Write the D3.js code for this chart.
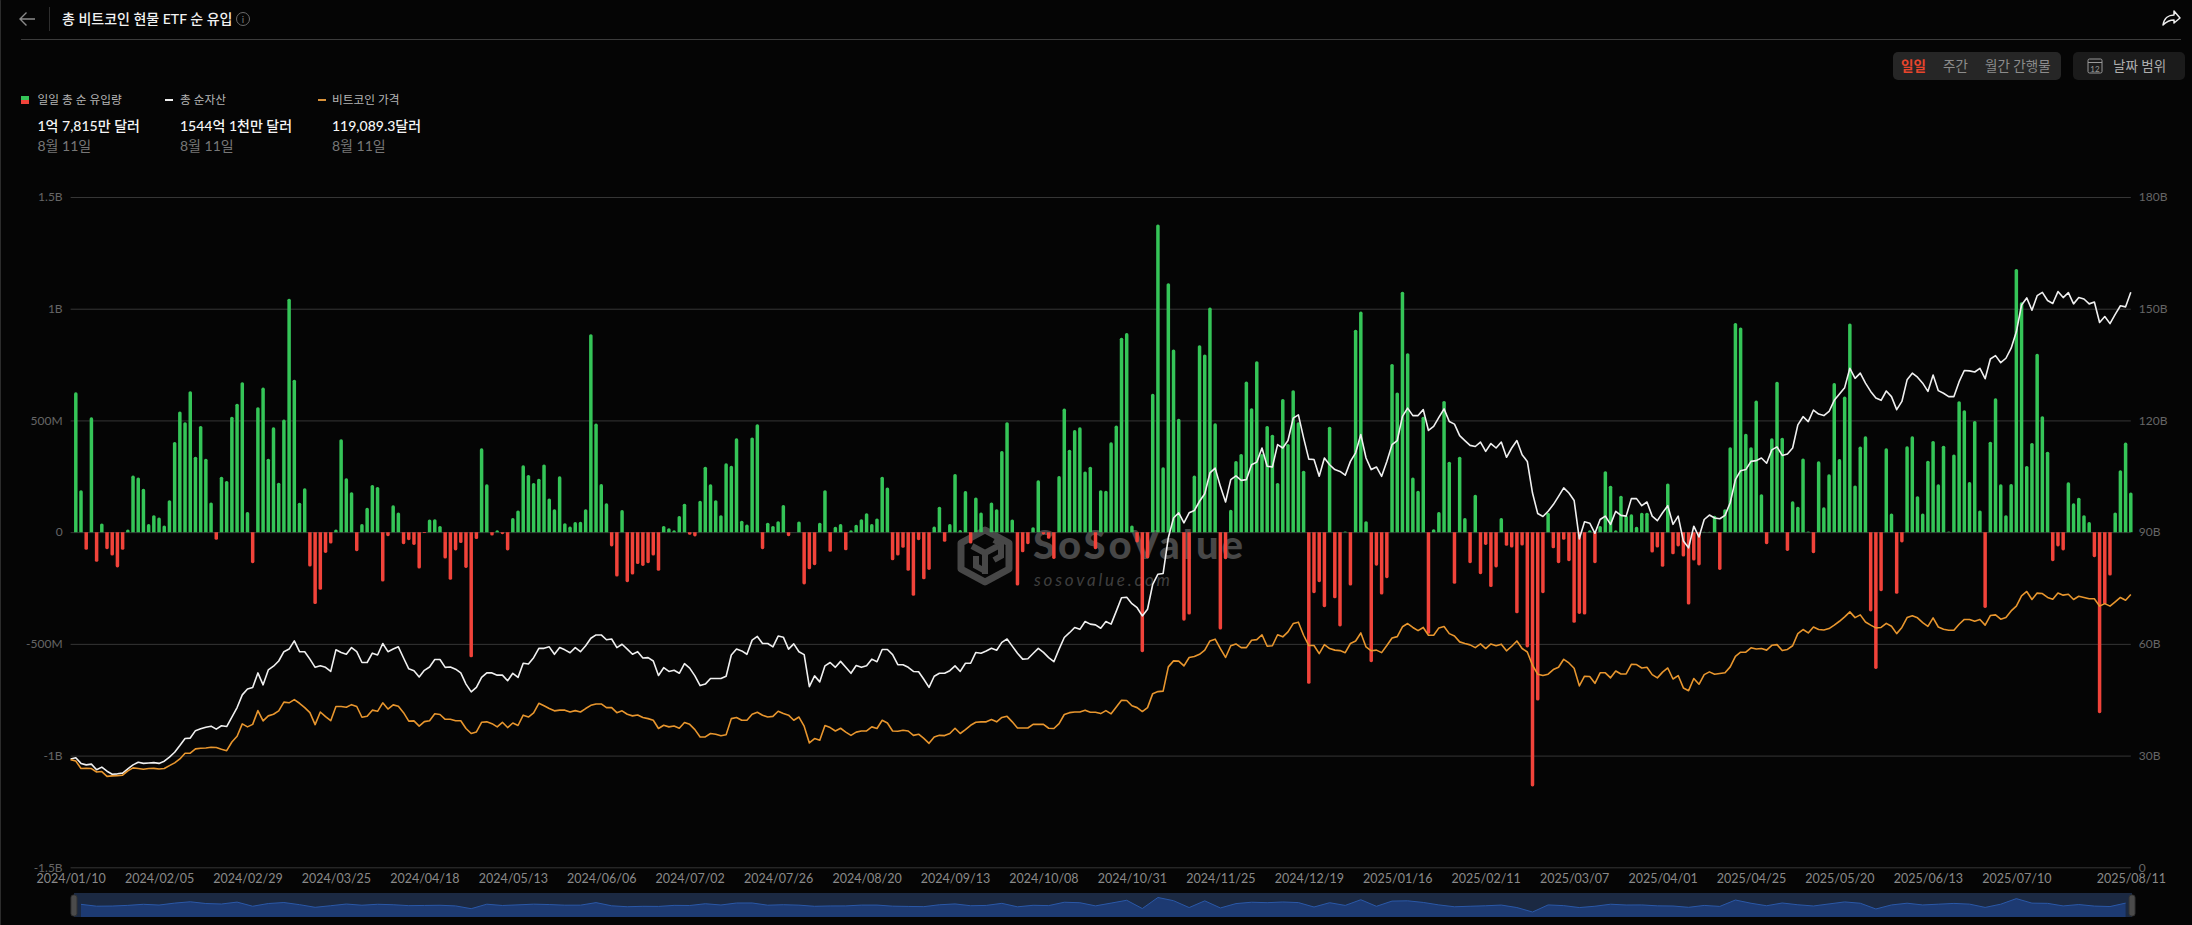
<!DOCTYPE html>
<html>
<head>
<meta charset="utf-8">
<script src="https://cdn.jsdelivr.net/npm/d3@7"></script>
<style>
  html, body { margin: 0; padding: 0; background: #050505; overflow: hidden; }
  svg { display: block; font-family: Lato, "Noto Sans CJK KR", sans-serif; }
</style>
</head>
<body>
<svg id="chart" width="2192" height="925"></svg>
<script>
// x axis labels, every 17th trading day plus the last one
const xTickIndex = [0,17,34,51,68,85,102,119,136,153,170,187,204,221,238,255,272,289,306,323,340,357,374,396];
const xTickLabels = ['2024/01/10','2024/02/05','2024/02/29','2024/03/25','2024/04/18','2024/05/13','2024/06/06','2024/07/02','2024/07/26','2024/08/20','2024/09/13','2024/10/08','2024/10/31','2024/11/25','2024/12/19','2025/01/16','2025/02/11','2025/03/07','2025/04/01','2025/04/25','2025/05/20','2025/06/13','2025/07/10','2025/08/11'];

const flowTicks = [-1500,-1000,-500,0,500,1000,1500];
const flowTickLabels = ['-1.5B','-1B','-500M','0','500M','1B','1.5B'];
const assetTicks = [0,30,60,90,120,150,180];
const assetTickLabels = ['0','30B','60B','90B','120B','150B','180B'];

// daily net inflow, $M (no bar on the first day)
const dailyFlow = [null,
  626,188,-79,514,-133,39,-76,-105,-158,-79,
  12,253,245,194,36,76,66,30,143,404,
  540,492,631,338,475,329,133,-34,248,229,
  517,575,671,90,-139,559,647,329,469,221,
  504,1045,682,132,196,-154,-322,-258,-93,-51,
  12,416,241,179,-85,36,109,211,202,-221,
  -18,120,88,-54,-36,-57,-163,-4,57,58,
  28,-118,-213,-82,-49,-160,-560,-31,375,214,
  -15,9,-9,-82,63,97,299,256,220,239,
  303,151,103,250,40,25,45,46,103,886,
  486,215,129,-64,-199,99,-224,-190,-143,-151,
  -139,-105,-173,28,18,9,72,127,-12,-19,
  140,293,214,143,76,308,297,420,51,34,
  424,483,-76,42,28,49,121,-18,0,48,
  -234,-166,-148,42,188,-88,24,36,-81,9,
  33,58,85,36,61,248,200,-126,-105,-70,
  -173,-285,-36,-211,-169,25,114,-43,36,260,
  10,184,-51,155,88,0,133,103,363,492,
  57,-239,-90,-54,22,232,-10,-30,-120,251,
  553,369,457,469,272,293,-76,188,185,402,
  477,870,891,30,-46,-537,-117,619,1377,290,
  1114,818,507,-396,-369,253,837,795,1005,487,
  -436,-121,100,318,350,674,555,765,350,475,
  436,220,596,395,635,492,275,-679,-273,-224,
  -336,472,-296,-422,3,-239,906,987,49,-582,
  -150,-279,-206,753,625,1076,801,245,185,517,
  -455,13,90,587,315,-231,338,63,-139,167,
  -188,-57,-246,-158,63,-61,-69,-363,-60,-516,
  -1138,-754,-273,87,-72,-139,-34,-130,-406,-366,
  -369,9,-139,28,273,208,9,163,73,80,
  24,87,87,-91,-69,-155,218,-99,-64,-109,
  -324,-127,-149,2,2,73,-169,103,380,936,
  916,440,380,589,170,-54,420,673,423,-84,
  138,114,330,3,-94,317,111,259,667,327,
  607,934,209,383,429,-355,-612,-264,375,84,
  -276,-46,384,429,161,84,320,408,214,387,
  3,348,586,546,224,498,97,-339,405,599,
  214,76,215,1178,1029,296,399,798,519,360,
  -130,-64,-82,223,129,154,76,45,-112,-810,
  -323,-194,88,277,401,178];

// total net assets, $B
const netAssets = [
  29.1,29.4,27.9,27.5,27.7,26.2,26.9,25.8,25.0,25.1,
  25.3,26.4,27.5,28.2,27.9,28.0,28.1,27.9,28.5,29.6,
  30.9,32.7,34.6,34.7,36.7,37.2,37.6,37.9,37.1,38.0,
  37.8,40.3,42.9,46.3,47.9,48.3,52.2,49.0,53.0,54.0,
  55.4,57.9,58.6,60.8,57.9,57.9,55.9,53.7,54.1,53.7,
  52.6,58.4,57.7,57.2,59.0,57.9,55.0,55.0,57.5,57.0,
  60.1,57.9,58.6,59.2,56.2,53.3,52.8,51.1,52.9,53.8,
  55.8,55.8,53.7,53.8,53.2,52.2,49.2,47.1,48.3,51.0,
  52.2,52.2,51.6,51.6,50.1,52.1,51.0,54.8,54.6,56.3,
  58.8,58.8,59.2,57.2,59.0,58.4,57.6,59.0,57.9,59.5,
  61.5,62.4,62.4,61.1,61.3,59.0,59.9,58.6,57.2,57.9,
  56.2,56.3,55.4,51.5,53.6,52.6,52.9,52.1,54.7,53.5,
  51.4,48.8,49.2,50.7,50.7,50.7,51.3,57.0,58.6,58.1,
  57.2,61.0,62.0,60.1,60.1,59.2,62.1,61.8,58.6,60.0,
  57.9,57.1,48.5,51.4,49.8,54.1,55.0,53.7,55.3,53.7,
  52.1,54.2,53.7,54.1,55.9,55.2,58.5,58.5,57.1,54.4,
  54.4,53.7,52.6,52.5,50.5,48.3,51.3,52.1,52.1,52.8,
  54.1,52.6,54.8,54.8,57.7,57.5,58.1,58.8,58.3,60.4,
  61.3,59.4,57.5,55.9,56.0,57.4,58.8,57.7,56.3,55.2,
  58.6,61.7,63.0,64.4,63.9,66.0,65.3,65.1,64.2,66.0,
  65.3,68.8,72.4,72.5,70.8,69.7,67.5,69.3,76.0,78.7,
  78.9,88.5,93.8,95.2,92.5,95.2,95.8,98.3,100.3,105.9,
  107.2,102.3,98.1,104.1,105.1,103.9,104.1,108.1,108.8,112.6,
  107.7,107.5,113.5,112.6,114.6,120.6,121.5,115.3,109.6,109.5,
  105.0,109.9,108.1,106.8,106.3,105.3,109.0,111.3,116.2,109.9,
  106.8,107.5,105.0,109.0,113.5,114.6,121.1,123.3,121.3,121.3,
  122.9,117.3,118.4,120.8,123.1,119.7,119.0,115.9,114.6,113.3,
  113.0,114.2,111.7,113.8,112.6,114.2,110.1,112.6,114.6,110.8,
  109.0,100.5,95.0,94.2,95.6,97.4,99.6,101.9,100.5,98.5,
  88.2,92.8,92.4,89.7,93.4,94.3,92.1,95.6,94.5,94.3,
  99.0,99.0,97.1,98.1,94.3,93.1,95.2,97.1,92.1,94.3,
  87.6,85.8,91.6,88.7,93.4,94.6,93.8,93.6,94.5,97.9,
  104.1,106.5,106.8,109.0,109.2,109.9,108.5,112.1,112.9,110.6,
  111.0,112.6,118.8,121.0,119.7,122.8,121.7,121.3,122.4,125.4,
  127.1,128.8,134.0,131.3,132.7,130.0,127.8,126.0,125.4,127.9,
  126.4,122.9,125.1,130.9,132.7,131.6,130.0,127.8,132.2,128.0,
  127.3,126.4,126.4,130.4,133.4,133.3,133.0,134.0,131.2,136.5,
  137.4,135.5,136.7,139.4,143.8,151.0,152.9,149.6,153.5,154.4,
  152.2,151.4,154.6,153.0,154.3,151.3,153.0,152.6,151.3,151.8,
  146.3,147.9,146.0,148.5,150.8,150.5,154.4];

// bitcoin price, $K
const btcPrice = [
  47.0,46.4,43.1,43.2,43.1,41.6,41.8,39.7,39.9,40.0,
  40.2,42.1,43.4,43.1,42.8,43.1,43.2,42.9,43.1,44.4,
  45.6,47.3,49.8,49.8,51.7,52.0,52.1,52.4,52.3,51.5,
  50.9,54.7,57.2,62.6,61.3,62.4,68.4,63.9,66.1,66.8,
  68.3,72.1,71.8,73.2,71.6,69.7,67.5,62.3,67.8,65.8,
  64.0,70.2,70.2,69.9,71.0,70.2,65.5,65.9,68.6,68.1,
  71.8,69.1,70.9,70.3,67.5,63.8,63.9,61.6,63.6,64.0,
  67.0,66.7,64.6,64.6,64.0,64.0,60.6,58.4,59.1,63.3,
  63.5,62.7,61.3,63.3,61.0,63.0,61.9,66.4,65.6,67.4,
  71.6,70.5,69.3,68.3,68.6,68.6,67.8,68.4,67.8,69.3,
  70.7,71.3,71.3,69.7,69.7,67.5,68.3,66.8,66.1,66.5,
  65.4,64.9,64.2,60.6,62.0,61.3,61.7,60.7,63.2,62.4,
  60.1,56.9,56.9,58.4,58.1,57.4,57.9,64.9,65.4,64.2,
  64.2,66.8,67.7,66.4,65.6,65.9,68.1,67.1,66.4,64.2,
  65.6,61.6,54.3,56.2,55.5,61.9,61.0,59.5,60.7,59.0,
  57.6,59.0,59.5,59.5,61.3,60.6,64.2,63.0,59.5,59.4,
  59.8,59.5,57.6,58.1,56.3,54.1,56.9,57.6,57.5,58.4,
  60.7,58.4,60.1,62.0,63.3,63.5,63.5,64.5,63.5,65.4,
  65.9,63.5,60.8,60.8,60.8,62.4,62.4,62.4,60.7,60.6,
  62.7,66.7,67.5,67.8,67.8,68.6,67.7,67.7,67.1,68.4,
  67.0,70.0,72.9,72.8,70.5,69.7,68.0,69.7,75.8,76.7,
  76.9,87.5,90.1,90.0,87.9,91.6,92.0,93.0,94.8,98.8,
  99.6,95.5,91.6,96.7,97.5,95.9,95.9,99.1,99.4,101.5,
  96.5,96.7,101.5,100.6,102.8,106.4,107.0,101.3,96.8,96.8,
  93.3,97.2,95.5,94.8,94.6,93.7,97.7,98.8,102.3,96.2,
  94.5,94.8,93.7,96.8,100.1,100.7,105.0,106.4,104.7,103.3,
  104.7,101.3,101.3,104.5,105.1,102.0,101.0,98.4,97.7,97.1,
  95.9,97.5,95.5,97.5,96.7,97.4,94.5,96.5,98.8,95.5,
  94.0,88.2,84.3,83.7,84.3,86.3,87.3,90.8,89.2,86.9,
  79.2,83.4,83.3,80.3,84.9,84.9,82.7,85.7,84.4,84.4,
  88.6,88.5,87.0,87.3,84.1,82.7,85.2,87.0,82.2,83.7,
  78.3,77.1,82.4,79.9,84.1,85.3,84.3,84.6,84.9,87.5,
  92.1,93.9,93.9,95.8,95.3,95.5,94.8,96.9,97.2,94.6,
  95.1,96.7,102.0,103.8,102.3,104.9,103.8,103.6,104.2,105.7,
  107.4,109.3,111.5,109.0,110.2,107.1,105.7,104.5,104.7,106.5,
  105.2,102.0,104.7,109.0,109.8,108.9,106.8,105.2,108.9,104.9,
  103.9,103.5,103.5,106.1,108.2,108.2,107.4,108.2,105.7,109.9,
  110.2,108.3,109.0,111.9,114.0,118.5,120.4,116.9,119.7,119.5,
  117.8,117.0,119.7,118.8,119.2,116.9,118.3,117.8,117.2,117.2,
  114.0,115.1,114.0,115.9,117.8,116.6,119.1];

const legendNames = ['일일 총 순 유입량','총 순자산','비트코인 가격'];
const legendValues = ['1억 7,815만 달러','1544억 1천만 달러','119,089.3달러'];
const legendDate = '8월 11일';
const legendX = [37.5, 180, 332];

const GREEN = '#35c558', RED = '#f1433a', WHITE = '#f0f0f0', ORANGE = '#e8962e';
const GRID = '#363636', AXIS_TEXT = '#666';

const svg = d3.select('#chart');
const xScale = d3.scalePoint().domain(d3.range(netAssets.length)).range([70.6, 2130.8]);
const flowScale = d3.scaleLinear().domain([-1500, 1500]).range([867.3, 197]);
const assetScale = d3.scaleLinear().domain([0, 180]).range([867.3, 197]);
const priceScale = d3.scaleLinear().domain([0, 292.6]).range([867.3, 197]);

svg.append('rect').attr('x', 0.5).attr('y', -5).attr('width', 2200).attr('height', 940)
  .attr('rx', 6).attr('fill', '#050505').attr('stroke', '#2c2c2c');

// left axis carries the grid lines
svg.append('g').attr('transform', 'translate(70.6,0)')
  .call(d3.axisLeft(flowScale).tickValues(flowTicks).tickSize(-2060.2).tickPadding(8)
    .tickFormat((d, i) => flowTickLabels[i]))
  .call(g => g.select('.domain').remove())
  .call(g => g.selectAll('line').attr('stroke', GRID))
  .call(g => g.selectAll('text').attr('fill', AXIS_TEXT).style('font-size', '12px').style('font-family', 'Lato'));

svg.append('g').attr('transform', 'translate(2130.8,0)')
  .call(d3.axisRight(assetScale).tickValues(assetTicks).tickSize(0).tickPadding(8)
    .tickFormat((d, i) => assetTickLabels[i]))
  .call(g => g.select('.domain').remove())
  .call(g => g.selectAll('text').attr('fill', AXIS_TEXT).style('font-size', '12px').style('font-family', 'Lato'));

svg.append('g').attr('transform', 'translate(0,867.3)')
  .call(d3.axisBottom(xScale).tickValues(xTickIndex).tickSize(0).tickPadding(7)
    .tickFormat((d, i) => xTickLabels[i]))
  .call(g => g.select('.domain').remove())
  .call(g => g.selectAll('text').attr('fill', '#8a8a8a').style('font-size', '12.5px').style('font-family', 'Lato'));

// watermark sits under the bars
const mark = svg.append('g').attr('fill', 'none').attr('stroke', '#474747');
mark.append('path').attr('stroke-width', 7).attr('stroke-linejoin', 'round')
  .attr('d', 'M985 530 L1009 543 L1009 569 L985 582 L961 569 L961 543 Z');
mark.append('path').attr('stroke-width', 6)
  .attr('d', 'M972 546 L985 553 L998 546 M985 553 L985 574 M976 556 L976 566 L985 571 M994 540 L1001 544 L1001 556 L994 560');
svg.append('text').attr('x', 1033).attr('y', 559).text('SoSoValue')
  .attr('fill', '#474747').style('font-size', '40px').style('font-weight', 900).style('font-family', 'Lato')
  .attr('textLength', 210);
svg.append('text').attr('x', 1034).attr('y', 586).text('sosovalue.com')
  .attr('fill', '#3f3f3f').style('font-size', '17px').style('font-style', 'italic').style('font-family', 'Lato')
  .attr('textLength', 136);

// bars: flat at the zero line, rounded at the far end
function barPath(v, i) {
  const w = 3.5;
  const x0 = xScale(i) - w / 2, x1 = x0 + w;
  const y0 = flowScale(0), y1 = flowScale(v);
  const s = v > 0 ? 1 : -1;
  const r = Math.min(1.6, Math.abs(y1 - y0));
  const p = d3.path();
  p.moveTo(x0, y0);
  p.lineTo(x0, y1 + s * r);
  p.quadraticCurveTo(x0, y1, x0 + 1.6, y1);
  p.lineTo(x1 - 1.6, y1);
  p.quadraticCurveTo(x1, y1, x1, y1 + s * r);
  p.lineTo(x1, y0);
  p.closePath();
  return p.toString();
}
svg.append('g').selectAll('path')
  .data(dailyFlow)
  .join('path')
  .attr('d', (d, i) => d ? barPath(d, i) : null)
  .attr('fill', d => d > 0 ? GREEN : RED);

const assetLine = d3.line().x((d, i) => xScale(i)).y(d => assetScale(d));
const priceLine = d3.line().x((d, i) => xScale(i)).y(d => priceScale(d));
svg.append('path').attr('d', assetLine(netAssets)).attr('fill', 'none')
  .attr('stroke', WHITE).attr('stroke-width', 1.6).attr('stroke-linejoin', 'round');
svg.append('path').attr('d', priceLine(btcPrice)).attr('fill', 'none')
  .attr('stroke', ORANGE).attr('stroke-width', 1.6).attr('stroke-linejoin', 'round');

// range slider under the chart, thinned to every third day
const sliderScale = d3.scaleLinear().domain([-2000, 2150]).range([917, 893]);
const sliderDays = d3.range(2, dailyFlow.length, 3);
svg.append('rect').attr('x', 74).attr('y', 893).attr('width', 2058).attr('height', 24).attr('fill', '#1b2942');
const sliderArea = d3.area().x(i => xScale(i)).y0(917).y1(i => sliderScale(dailyFlow[i]));
svg.append('path').attr('d', sliderArea(sliderDays)).attr('fill', '#1d3a72');
const sliderLine = d3.line().x(i => xScale(i)).y(i => sliderScale(dailyFlow[i]));
svg.append('path').attr('d', sliderLine(sliderDays)).attr('fill', 'none').attr('stroke', '#2a58a8').attr('stroke-width', 1);
[74, 2132].forEach(x => {
  svg.append('rect').attr('x', x - 3).attr('y', 895).attr('width', 6).attr('height', 21).attr('rx', 2.5)
    .attr('fill', '#4b4b4b').attr('stroke', '#333');
});

// header
svg.append('path').attr('d', 'M35 19 H20 M26.5 12.5 L20 19 L26.5 25.5').attr('fill', 'none')
  .attr('stroke', '#8a8a8a').attr('stroke-width', 1.4);
svg.append('line').attr('x1', 49.5).attr('x2', 49.5).attr('y1', 7).attr('y2', 31).attr('stroke', '#2e2e2e');
svg.append('text').attr('x', 62).attr('y', 24).text('총 비트코인 현물 ETF 순 유입')
  .attr('fill', '#f2f2f2').style('font-size', '14px').style('font-weight', 500);
svg.append('circle').attr('cx', 243).attr('cy', 19).attr('r', 6.5).attr('fill', 'none').attr('stroke', '#6a6a6a');
svg.append('text').attr('x', 243).attr('y', 23).attr('text-anchor', 'middle').text('i')
  .attr('fill', '#7a7a7a').style('font-size', '10px');
svg.append('line').attr('x1', 21).attr('x2', 2181).attr('y1', 39.5).attr('y2', 39.5).attr('stroke', '#3c3c3c');
svg.append('path').attr('d', 'M2163 25 C2164 18 2169 15 2174 15 L2174 11 L2180 18 L2174 23 L2174 20 C2170 20 2167 21 2163 25 Z')
  .attr('fill', 'none').attr('stroke', '#eee').attr('stroke-width', 1.5).attr('stroke-linejoin', 'round');

// period buttons
svg.append('rect').attr('x', 1893).attr('y', 52).attr('width', 168).attr('height', 28).attr('rx', 5).attr('fill', '#262626');
svg.append('rect').attr('x', 2073).attr('y', 52).attr('width', 112).attr('height', 28).attr('rx', 5).attr('fill', '#1b1b1b');
const buttons = [['일일', 1901, '#e8452c', 700], ['주간', 1943, '#8c8c8c', 400], ['월간 간행물', 1985, '#8c8c8c', 400], ['날짜 범위', 2113, '#adadad', 400]];
buttons.forEach(b => {
  svg.append('text').attr('x', b[1]).attr('y', 71).text(b[0])
    .attr('fill', b[2]).style('font-size', '13.5px').style('font-weight', b[3]);
});
svg.append('rect').attr('x', 2088).attr('y', 59).attr('width', 14).attr('height', 14).attr('rx', 1.5)
  .attr('fill', 'none').attr('stroke', '#999');
svg.append('line').attr('x1', 2088).attr('x2', 2102).attr('y1', 62.5).attr('y2', 62.5).attr('stroke', '#999');
svg.append('text').attr('x', 2095).attr('y', 71.5).attr('text-anchor', 'middle').text('12')
  .attr('fill', '#999').style('font-size', '8px');

// legend
svg.append('rect').attr('x', 21).attr('y', 96).attr('width', 8).attr('height', 4).attr('fill', GREEN);
svg.append('rect').attr('x', 21).attr('y', 100).attr('width', 8).attr('height', 4).attr('fill', RED);
svg.append('rect').attr('x', 165).attr('y', 99).attr('width', 8).attr('height', 2).attr('fill', '#eee');
svg.append('rect').attr('x', 318).attr('y', 99).attr('width', 8).attr('height', 2).attr('fill', '#d9923a');
legendNames.forEach((name, i) => {
  svg.append('text').attr('x', legendX[i]).attr('y', 104).text(name)
    .attr('fill', '#b5b5b5').style('font-size', '11.7px');
  svg.append('text').attr('x', legendX[i]).attr('y', 131).text(legendValues[i])
    .attr('fill', '#f5f5f5').style('font-size', '14px').style('font-weight', 500);
  svg.append('text').attr('x', legendX[i]).attr('y', 151).text(legendDate)
    .attr('fill', '#777').style('font-size', '14px');
});
</script>
</body>
</html>
